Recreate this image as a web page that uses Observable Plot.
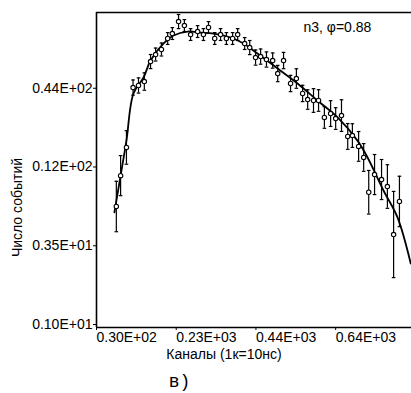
<!DOCTYPE html>
<html>
<head>
<meta charset="utf-8">
<script src="https://cdn.jsdelivr.net/npm/d3@7"></script>
<script src="https://cdn.jsdelivr.net/npm/@observablehq/plot@0.6"></script>
<style>
  html, body { margin: 0; padding: 0; background: white; }
</style>
</head>
<body>
<div id="chart"></div>
<script>
// Measured points (channel, counts) and error-bar extent factor (bar spans y/f .. y*f)
const channels = [81, 92, 107, 124, 138, 153, 169, 182, 197, 213, 225, 241, 256, 272, 290, 305, 318, 334, 349, 364,
                  380, 393, 411, 424, 439, 452, 467, 483, 496, 511, 529, 544, 560, 573, 588, 601, 616, 632, 645, 660,
                  676, 688, 704, 717, 730, 745, 763, 778, 794, 809];
const counts = [7.0, 11.5, 18.1, 47.4, 49.0, 52.2, 72.0, 80.6, 87.4, 104.3, 113, 137, 128.5, 111.2, 116.7, 111.2, 124.5, 104.3, 111.2, 104.3,
                104.3, 111.2, 96.2, 90.2, 76.8, 78.0, 74.4, 73.2, 59.4, 73.2, 50.6, 54.8, 43.1, 39.1, 38.5, 38.5, 29.3, 31.2, 28.8, 30.2,
                21.6, 21.9, 18.4, 15.4, 8.8, 11.7, 10.8, 9.65, 4.46, 7.59];
const errFactor = [1.5, 1.38, 1.31, 1.13, 1.13, 1.15, 1.12, 1.11, 1.11, 1.1, 1.1, 1.12, 1.1, 1.1, 1.1, 1.1, 1.1, 1.1, 1.1, 1.1,
                   1.1, 1.1, 1.1, 1.12, 1.13, 1.13, 1.13, 1.13, 1.14, 1.14, 1.14, 1.17, 1.14, 1.17, 1.21, 1.19, 1.19, 1.23, 1.19, 1.29,
                   1.23, 1.21, 1.27, 1.25, 1.42, 1.38, 1.38, 1.42, 2.0, 1.5];

// Fitted curve
const fitX = [76, 92, 107, 125, 151, 169, 202, 228, 264, 298, 331, 375, 408, 444, 496, 547, 598, 650, 701, 727, 768, 804, 838];
const fitY = [6.36, 11.5, 20.2, 43.1, 55.7, 73.2, 96.2, 109.4, 116.7, 114.8, 113, 106, 96.2, 81.9, 64.4, 50.6, 38.5, 29.3, 20.2, 15.4, 9.05, 5.87, 2.80];

// Axis ticks
const xTicks = [30, 235, 440, 645];
const xTickLabels = ["0.30E+02", "0.23E+03", "0.44E+03", "0.64E+03"];
const yTicks = [1, 3.548, 12.59, 44.67];
const yTickLabels = ["0.10E+01", "0.35E+01", "0.12E+02", "0.44E+02"];

const pts = channels.map((x, i) => ({x, y: counts[i], lo: counts[i] / errFactor[i], hi: counts[i] * errFactor[i]}));
const fit = fitX.map((x, i) => ({x, y: fitY[i]}));

const cap = {draw(ctx) { ctx.moveTo(-1.8, 0); ctx.lineTo(1.8, 0); }};

const xLab = d => xTickLabels[xTicks.findIndex(t => Math.abs(t - d) < 1e-6)];
const yLab = d => yTickLabels[yTicks.findIndex(t => Math.abs(t - d) < 1e-6)];

const chart = Plot.plot({
  width: 411,
  height: 393,
  marginLeft: 96,
  marginRight: 0,
  marginTop: 12,
  marginBottom: 66,
  style: {fontFamily: "Liberation Sans, Arial, sans-serif", fontSize: "14px", background: "white", color: "black"},
  x: {domain: [30, 840]},
  y: {type: "log", domain: [1, 158.5]},
  marks: [
    Plot.ruleY([1, 158.5], {stroke: "black", strokeWidth: 1.6}),
    Plot.ruleX([30], {stroke: "black", strokeWidth: 1.6}),
    Plot.axisX({ticks: xTicks, tickFormat: xLab, tickSize: 3, tickPadding: 2, textAnchor: "start", label: null, fontSize: 14}),
    Plot.axisY({ticks: yTicks, tickFormat: yLab, tickSize: 3, tickPadding: 1, dy: -3, label: null, fontSize: 14}),
    Plot.ruleX(pts, {x: "x", y1: "lo", y2: "hi", stroke: "black", strokeWidth: 1.2}),
    Plot.dot(pts, {x: "x", y: "lo", symbol: cap, stroke: "black", strokeWidth: 1.2, r: 2}),
    Plot.dot(pts, {x: "x", y: "hi", symbol: cap, stroke: "black", strokeWidth: 1.2, r: 2}),
    Plot.line(fit, {x: "x", y: "y", curve: "catmull-rom", stroke: "black", strokeWidth: 1.8, clip: true}),
    Plot.dot(pts, {x: "x", y: "y", r: 2.2, stroke: "black", strokeWidth: 1.1, fill: "white"}),
    Plot.text(["n3, φ=0.88"], {frameAnchor: "top", text: d => d, textAnchor: "start", lineAnchor: "middle", dx: 49.5, dy: 15.5, fontSize: 14}),
    Plot.text(["Число событий"], {frameAnchor: "left", text: d => d, rotate: -90, textAnchor: "middle", lineAnchor: "middle", dx: -79, dy: 37.5, fontSize: 14}),
    Plot.text(["Каналы (1к=10нс)"], {frameAnchor: "bottom", text: d => d, textAnchor: "middle", lineAnchor: "middle", dx: -30, dy: 27, fontSize: 14}),
    Plot.text(["в)"], {frameAnchor: "bottom", text: d => d, textAnchor: "middle", lineAnchor: "middle", dx: -74.5, dy: 54, fontSize: 18, fontFamily: "Liberation Mono, DejaVu Sans Mono, monospace"})
  ]
});
document.getElementById("chart").appendChild(chart);
</script>
</body>
</html>
